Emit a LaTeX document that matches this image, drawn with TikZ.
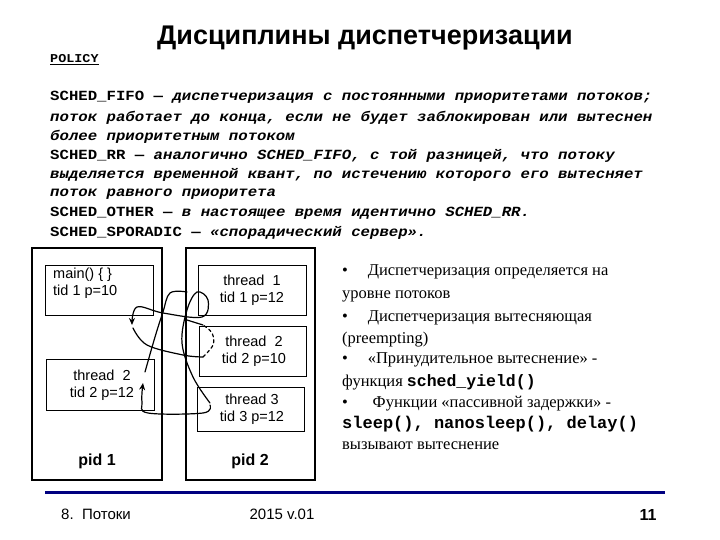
\documentclass[tikz,border=0pt]{standalone}
\usepackage{fontspec}
\setmainfont{Liberation Serif}
\setsansfont{Liberation Sans}
\newfontfamily\mymono[FakeStretch=1.12]{Liberation Mono}
\newfontfamily\mybold{Liberation Mono}
\usetikzlibrary{arrows.meta}
\definecolor{navy}{RGB}{0,0,128}
\tikzset{
  outer/.style={draw,line width=1.8pt},
  inner/.style={draw,line width=0.8pt},
  boxtxt/.style={font=\sffamily\fontsize{14.5}{17}\selectfont,align=center},
  mline/.style={anchor=west,inner sep=0pt,font=\mymono\bfseries\fontsize{14}{16}\selectfont},
  rline/.style={anchor=west,inner sep=0pt,font=\fontsize{16.5}{19}\selectfont},
  hand/.style={line width=1.2pt,line cap=round},
  harr/.style={hand,-{Stealth[length=7pt,width=6pt]}}
}
\begin{document}
\begin{tikzpicture}[x=1pt,y=-1pt]
\useasboundingbox[fill=white] (0,0) rectangle (720,540);
\node[inner sep=0pt,font=\sffamily\bfseries\fontsize{27}{30}\selectfont] (title) at (365,38) {Дисциплины диспетчеризации};
\node[mline,font=\mymono\bfseries\fontsize{12}{14}\selectfont] (pol) at (50,60) {\underline{POLICY}};
\node[mline] (m1) at (50,97) {SCHED\_FIFO — \textit{диспетчеризация с постоянными приоритетами потоков;}};
\node[mline] (m2) at (50,118) {\textit{поток работает до конца, если не будет заблокирован или вытеснен}};
\node[mline] (m3) at (50,137) {\textit{более приоритетным потоком}};
\node[mline] (m4) at (50,156) {SCHED\_RR — \textit{аналогично SCHED\_FIFO, с той разницей, что потоку}};
\node[mline] (m5) at (50,175) {\textit{выделяется временной квант, по истечению которого его вытесняет}};
\node[mline] (m6) at (50,194) {\textit{поток равного приоритета}};
\node[mline] (m7) at (50,213) {SCHED\_OTHER — \textit{в настоящее время идентично SCHED\_RR.}};
\node[mline] (m8) at (50,233) {SCHED\_SPORADIC — \textit{«спорадический сервер».}};
% boxes
\draw[outer] (32,248) rectangle (162,480);
\draw[outer] (186,248) rectangle (315,480);
\draw[inner] (45,265) rectangle (153,315);
\node[boxtxt,anchor=north west,align=left,inner sep=0pt] (mn) at (53,268) {main() \{ \}\\tid 1 p=10};
\draw[inner] (46,359) rectangle (154,410);
\node[boxtxt] (t2l) at (102,385) {thread\ \ 2\\tid 2 p=12};
\draw[inner] (198,265) rectangle (306,315);
\node[boxtxt] (t1) at (252,290) {thread\ \ 1\\tid 1 p=12};
\draw[inner] (199,326) rectangle (306,376);
\node[boxtxt] (t2r) at (254,351) {thread\ \ 2\\tid 2 p=10};
\draw[inner] (197,387) rectangle (304,431);
\node[boxtxt] (t3) at (252,409) {thread 3\\tid 3 p=12};
\node[font=\sffamily\bfseries\fontsize{16}{18}\selectfont] (p1) at (97,461) {pid 1};
\node[font=\sffamily\bfseries\fontsize{16}{18}\selectfont] (p2) at (250,461) {pid 2};
% freehand curves
\draw[harr] plot[smooth,tension=0.6] coordinates {(210,403) (193,377) (182,343) (187,310) (197,292) (208,300) (202,317) (163,313) (137,307) (132,325)};
\draw[hand] plot[smooth,tension=0.6] coordinates {(133,328) (147,345) (183,355) (203,357)};
\draw[hand,dashed] plot[smooth,tension=0.6] coordinates {(203,357) (213,345) (212,333) (203,325)};
\draw[hand] (203,325) -- (187,320);
\draw[hand] plot[smooth,tension=0.6] coordinates {(145,372) (155,337) (163,312) (170,293) (187,292)};
\draw[harr] plot[smooth,tension=0.6] coordinates {(210,405) (203,413) (148,413) (142,402) (143,383)};
% right text
\node[rline] (r1) at (342,272) {•\hspace{1.2em}Диспетчеризация определяется на};
\node[rline] (r2) at (342,296) {уровне потоков};
\node[rline] (r3) at (342,318) {•\hspace{1.2em}Диспетчеризация вытесняющая};
\node[rline] (r4) at (342,340) {(preempting)};
\node[rline] (r5) at (342,360) {•\hspace{1.2em}«Принудительное вытеснение» -};
\node[rline] (r6) at (342,382) {функция \mybold\bfseries\fontsize{16.5}{19}\selectfont sched\_yield()};
\node[rline] (r7) at (342,404) {•\hspace{1.5em}Функции «пассивной задержки» -};
\node[rline,font=\mybold\bfseries\fontsize{17}{19}\selectfont] (r8) at (342,424) {sleep(), nanosleep(), delay()};
\node[rline] (r9) at (342,446) {вызывают вытеснение};
% footer
\draw[navy,line width=3pt] (45,492) -- (665,492);
\node[font=\sffamily\fontsize{15}{17}\selectfont] (f1) at (96,514) {8.\ \ Потоки};
\node[font=\sffamily\fontsize{15}{17}\selectfont] (f2) at (282,514) {2015 v.01};
\node[font=\sffamily\bfseries\fontsize{16}{18}\selectfont] (f3) at (648,515) {11};
\end{tikzpicture}
\end{document}
